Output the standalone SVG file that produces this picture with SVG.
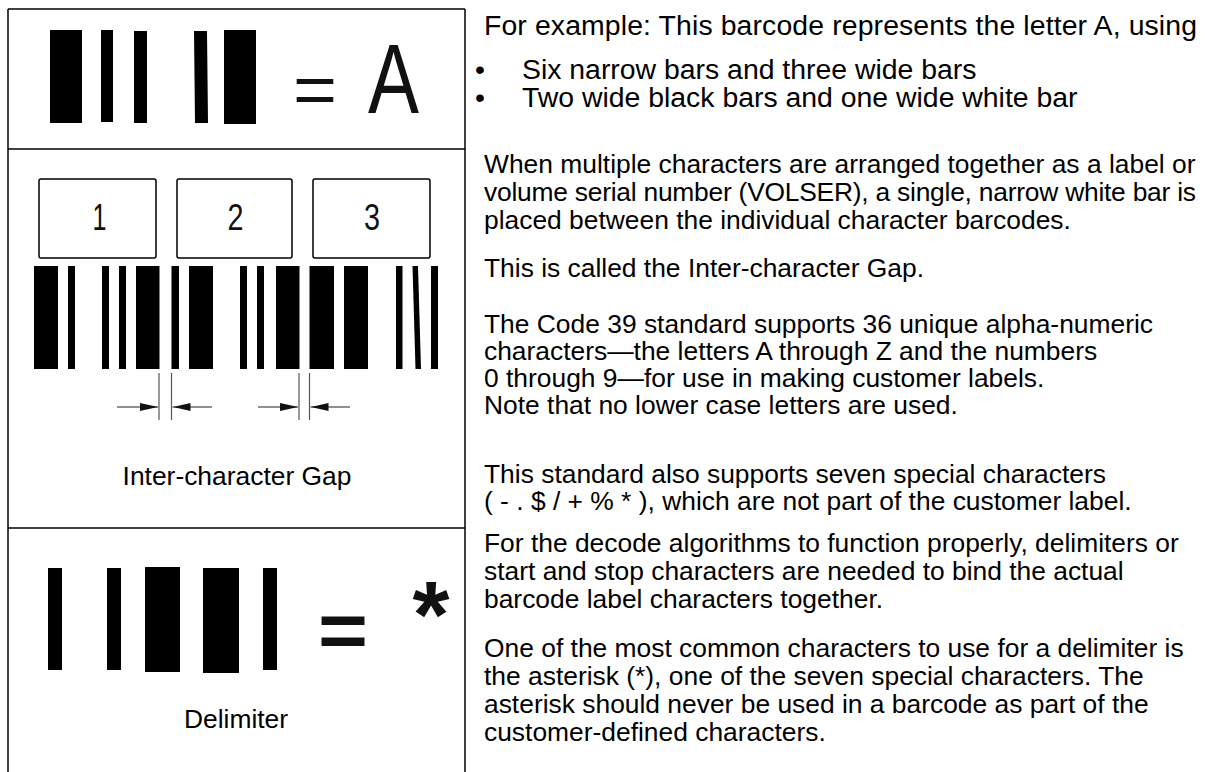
<svg xmlns="http://www.w3.org/2000/svg" width="1205" height="772" viewBox="0 0 1205 772">
<style>
.frame{stroke:#000;stroke-width:1.5;fill:none}
.bar{fill:#000}
.box{fill:#fff;stroke:#000;stroke-width:1.5}
.tick{stroke:#555;stroke-width:1.2}
.arr{stroke:#222;stroke-width:1.2}
.body{font-family:"Liberation Sans",Arial,sans-serif;font-size:26.4px;fill:#000}
.head{font-family:"Liberation Sans",Arial,sans-serif;font-size:28.4px;fill:#000}
.lbl{font-family:"Liberation Sans",Arial,sans-serif;font-size:26.4px;fill:#000;text-anchor:middle}
.big{font-family:"Liberation Sans",Arial,sans-serif;fill:#111;text-anchor:middle}
.dig{font-family:"Liberation Sans",Arial,sans-serif;font-size:37px;fill:#111;text-anchor:middle}
</style>
<defs>
<marker id="ah" viewBox="0 0 18 8" refX="18" refY="4" markerWidth="18" markerHeight="8" markerUnits="userSpaceOnUse" orient="auto">
<path d="M0,0 L18,4 L0,8 Z" fill="#111"/>
</marker>
</defs>
<rect width="1205" height="772" fill="#fff"/>
<g id="frame">
<line class="frame" x1="8" y1="9" x2="8" y2="772"/>
<line class="frame" x1="465" y1="9" x2="465" y2="772"/>
<line class="frame" x1="8" y1="9" x2="465" y2="9"/>
<line class="frame" x1="8" y1="149" x2="465" y2="149"/>
<line class="frame" x1="8" y1="528" x2="465" y2="528"/>
</g>
<g id="barcode-a">
<rect class="bar" x="50" y="30" width="32" height="93"/>
<rect class="bar" x="101" y="30" width="12" height="92"/>
<rect class="bar" x="134" y="31" width="13" height="92"/>
<polygon class="bar" points="194,31 207,31 208,123 195,123"/>
<rect class="bar" x="224" y="30" width="32" height="94"/>
<text class="big" x="315" y="114" font-size="70" textLength="44" lengthAdjust="spacingAndGlyphs">=</text>
<text class="big" x="393.5" y="113" font-size="98" textLength="51" lengthAdjust="spacingAndGlyphs">A</text>
</g>
<g id="boxes">
<rect class="box" x="39" y="179" width="117" height="79" rx="2"/>
<text class="dig" x="99.5" y="230" textLength="14" lengthAdjust="spacingAndGlyphs">1</text>
<rect class="box" x="177" y="179" width="115" height="79" rx="2"/>
<text class="dig" x="235.5" y="230" textLength="16" lengthAdjust="spacingAndGlyphs">2</text>
<rect class="box" x="313" y="179" width="117" height="79" rx="2"/>
<text class="dig" x="372" y="230" textLength="16" lengthAdjust="spacingAndGlyphs">3</text>
</g>
<g id="barcode-123">
<rect class="bar" x="34" y="266" width="24" height="103"/>
<rect class="bar" x="68" y="266" width="7" height="103"/>
<rect class="bar" x="102" y="266" width="7" height="103"/>
<rect class="bar" x="119" y="266" width="7" height="103"/>
<rect class="bar" x="136" y="266" width="23.5" height="103"/>
<rect class="bar" x="171.5" y="266" width="7.5" height="103"/>
<rect class="bar" x="189" y="266" width="24" height="103"/>
<rect class="bar" x="240" y="266" width="7" height="103"/>
<rect class="bar" x="257" y="266" width="7" height="103"/>
<rect class="bar" x="276" y="266" width="23.5" height="103"/>
<rect class="bar" x="309.5" y="266" width="24.5" height="103"/>
<rect class="bar" x="344" y="266" width="24" height="103"/>
<rect class="bar" x="396" y="266" width="6.5" height="103"/>
<polygon class="bar" points="412.5,266 418,266 421,369 415.5,369"/>
<rect class="bar" x="431" y="266" width="7" height="103"/>
</g>
<g id="connectors">
<line class="tick" x1="159" y1="373" x2="159" y2="420"/>
<line class="tick" x1="171.5" y1="373" x2="171.5" y2="420"/>
<line class="tick" x1="299" y1="373" x2="299" y2="420"/>
<line class="tick" x1="309.5" y1="373" x2="309.5" y2="420"/>
<line class="arr" x1="117" y1="407" x2="158" y2="407" marker-end="url(#ah)"/>
<line class="arr" x1="212" y1="407" x2="172.5" y2="407" marker-end="url(#ah)"/>
<line class="arr" x1="258" y1="407" x2="298" y2="407" marker-end="url(#ah)"/>
<line class="arr" x1="350" y1="407" x2="310.5" y2="407" marker-end="url(#ah)"/>
</g>
<g id="gap-label">
<text class="lbl" x="237" y="485">Inter-character Gap</text>
</g>
<g id="barcode-delim">
<rect class="bar" x="48" y="568" width="14" height="102"/>
<rect class="bar" x="107" y="568" width="14" height="102"/>
<rect class="bar" x="145" y="567" width="35" height="105"/>
<rect class="bar" x="203" y="568" width="36" height="105"/>
<rect class="bar" x="263" y="568" width="14" height="102"/>
<text class="big" x="343" y="657" font-size="78" font-weight="bold" textLength="50" lengthAdjust="spacingAndGlyphs">=</text>
<text class="big" x="431" y="647" font-size="95" font-weight="bold">*</text>
<text class="lbl" x="236" y="728">Delimiter</text>
</g>
<g id="description">
<text class="head" x="484" y="35" textLength="713">For example: This barcode represents the letter A, using</text>
<text class="head" x="475" y="79">•</text>
<text class="head" x="522" y="79">Six narrow bars and three wide bars</text>
<text class="head" x="475" y="107">•</text>
<text class="head" x="522" y="107">Two wide black bars and one wide white bar</text>
<text class="body" x="484" y="173">When multiple characters are arranged together as a label or</text>
<text class="body" x="484" y="201" textLength="712">volume serial number (VOLSER), a single, narrow white bar is</text>
<text class="body" x="484" y="229">placed between the individual character barcodes.</text>
<text class="body" x="484" y="277">This is called the Inter-character Gap.</text>
<text class="body" x="484" y="333">The Code 39 standard supports 36 unique alpha-numeric</text>
<text class="body" x="484" y="360">characters—the letters A through Z and the numbers</text>
<text class="body" x="484" y="387">0 through 9—for use in making customer labels.</text>
<text class="body" x="484" y="414">Note that no lower case letters are used.</text>
<text class="body" x="484" y="483">This standard also supports seven special characters</text>
<text class="body" x="484" y="510">( - . $ / + % * ), which are not part of the customer label.</text>
<text class="body" x="484" y="552">For the decode algorithms to function properly, delimiters or</text>
<text class="body" x="484" y="580">start and stop characters are needed to bind the actual</text>
<text class="body" x="484" y="608">barcode label characters together.</text>
<text class="body" x="484" y="657">One of the most common characters to use for a delimiter is</text>
<text class="body" x="484" y="685">the asterisk (*), one of the seven special characters. The</text>
<text class="body" x="484" y="713">asterisk should never be used in a barcode as part of the</text>
<text class="body" x="484" y="741">customer-defined characters.</text>
</g>
</svg>
